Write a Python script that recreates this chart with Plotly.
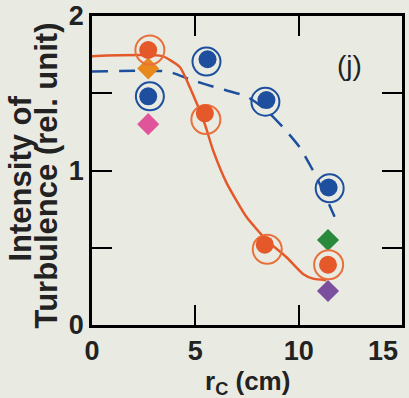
import plotly.graph_objects as go

# Data
orange_fill_x = [2.72, 5.46, 8.36, 11.42]
orange_fill_y = [1.78, 1.37, 0.52, 0.39]
orange_ring_x = [2.80, 5.51, 8.48, 11.45]
orange_ring_y = [1.78, 1.33, 0.49, 0.39]

blue_fill_x = [2.72, 5.59, 8.44, 11.45]
blue_fill_y = [1.48, 1.72, 1.456, 0.89]
blue_ring_x = [2.80, 5.54, 8.39, 11.50]
blue_ring_y = [1.48, 1.705, 1.445, 0.885]

diamond_x = [2.72, 2.72, 11.42, 11.42]
diamond_y = [1.66, 1.30, 0.55, 0.22]
diamond_colors = ["#e8891e", "#e0559a", "#2a8a3c", "#7a4f9e"]

orange_curve_x = [0, 3.4, 4.25, 4.73, 5.46, 5.86, 6.51, 7.47, 8.44, 9.40, 10.21, 10.69, 11.34]
orange_curve_y = [1.74, 1.74, 1.67, 1.54, 1.30, 1.13, 0.92, 0.70, 0.55, 0.44, 0.33, 0.30, 0.29]

blue_curve_x = [0, 3.67, 4.73, 6.18, 7.47, 8.44, 9.24, 10.05, 10.85, 11.74]
blue_curve_y = [1.64, 1.64, 1.59, 1.53, 1.48, 1.39, 1.28, 1.15, 0.96, 0.70]

x_tickvals = [0, 5, 10]
x_last_label = 15
y_tickvals = [0, 1, 2]
y_minor_ticks = [0.5, 1.5]

ORANGE = "#e4582a"
ORANGE_RING = "#e8703c"
BLUE = "#1d4f9e"
BG = "#e9ebe2"
TXT = "#222222"
FONT = "Liberation Sans Narrow, Liberation Sans, Arial, sans-serif"
FONT_T = "Liberation Sans, Arial, sans-serif"

fig = go.Figure()

fig.add_trace(go.Scatter(x=blue_curve_x, y=blue_curve_y, mode="lines",
                         line=dict(color=BLUE, width=2.5, dash="16px,11px", shape="spline", smoothing=0.6),
                         showlegend=False, hoverinfo="skip"))
fig.add_trace(go.Scatter(x=orange_curve_x, y=orange_curve_y, mode="lines",
                         line=dict(color=ORANGE, width=2.5, shape="spline", smoothing=0.5),
                         showlegend=False, hoverinfo="skip"))

fig.add_trace(go.Scatter(x=diamond_x, y=diamond_y, mode="markers",
                         marker=dict(symbol="diamond", size=17, color=diamond_colors, line=dict(width=0)),
                         showlegend=False))

fig.add_trace(go.Scatter(x=orange_ring_x, y=orange_ring_y, mode="markers",
                         marker=dict(symbol="circle-open", size=29, color=ORANGE_RING, line=dict(width=2, color=ORANGE_RING)),
                         showlegend=False))
fig.add_trace(go.Scatter(x=blue_ring_x, y=blue_ring_y, mode="markers",
                         marker=dict(symbol="circle-open", size=28, color=BLUE, line=dict(width=2, color=BLUE)),
                         showlegend=False))

fig.add_trace(go.Scatter(x=orange_fill_x, y=orange_fill_y, mode="markers",
                         marker=dict(symbol="circle", size=18, color=ORANGE, line=dict(width=0)),
                         showlegend=False))
fig.add_trace(go.Scatter(x=blue_fill_x, y=blue_fill_y, mode="markers",
                         marker=dict(symbol="circle", size=18, color=BLUE, line=dict(width=0)),
                         showlegend=False))

# panel label
fig.add_annotation(x=12.46, y=1.68, xref="x", yref="y", text="(j)", showarrow=False,
                   font=dict(family=FONT_T, size=28, color=TXT))

# last x tick label (right-aligned at the frame edge as in the reference)
fig.add_annotation(x=x_last_label, y=0, xref="x", yref="paper", text=str(x_last_label), showarrow=False,
                   xanchor="right", yanchor="top", yshift=-9, xshift=-2,
                   font=dict(family=FONT, size=27, color=TXT, weight="bold"))

# x-axis title
fig.add_annotation(x=0.5, y=0, xref="paper", yref="paper", text="r<sub>C</sub> (cm)", showarrow=False,
                   xanchor="center", yanchor="top", yshift=-39,
                   font=dict(family=FONT_T, size=26, color=TXT, weight="bold"))

# y-axis title (two tightly spaced lines)
fig.add_annotation(x=0, y=0.5, xref="paper", yref="paper", text="Intensity of", showarrow=False,
                   textangle=-90, xanchor="center", yanchor="middle", xshift=-72, yshift=-8,
                   font=dict(family=FONT_T, size=31, color=TXT, weight="bold"))
fig.add_annotation(x=0, y=0.5, xref="paper", yref="paper", text="Turbulence (rel. unit)", showarrow=False,
                   textangle=-90, xanchor="center", yanchor="middle", xshift=-46, yshift=-5,
                   font=dict(family=FONT_T, size=31, color=TXT, weight="bold"))

axis_common = dict(showline=True, linecolor="black", linewidth=2.5, mirror="ticks",
                   ticks="inside", ticklen=20, tickwidth=2, tickcolor="black",
                   showgrid=False, zeroline=False, automargin=False,
                   tickfont=dict(family=FONT, size=27, color=TXT, weight="bold"))

fig.update_layout(
    width=409, height=398,
    margin=dict(l=92, r=7, t=16, b=73),
    paper_bgcolor=BG, plot_bgcolor=BG,
    xaxis=dict(range=[0, 15], tickvals=x_tickvals, **axis_common),
    yaxis=dict(range=[0, 2], tickvals=y_tickvals,
               minor=dict(tickvals=y_minor_ticks, ticks="inside", ticklen=20, tickwidth=2,
                          tickcolor="black", showgrid=False),
               **axis_common),
)

fig.write_html("out.html", config={"displayModeBar": False},
               post_script="document.body.style.margin='0';document.body.style.background='%s';" % BG)
